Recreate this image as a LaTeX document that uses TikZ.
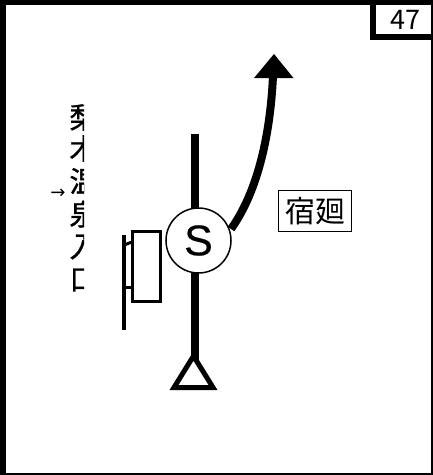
\documentclass[tikz,border=0pt]{standalone}
\usepackage{fontspec}
\setmainfont{Liberation Sans}
\newfontfamily\sbold[FakeBold=0.4]{Liberation Sans}
\newfontfamily\cjk{Noto Sans CJK JP}
\newfontfamily\cjkb[FakeBold=1]{Noto Sans CJK JP}
\newfontfamily\arrowfont{DejaVu Sans}
\tikzset{
  x=1pt,y=-1pt,
  vchar/.style={inner sep=0pt,font=\cjkb\fontsize{29}{29}\selectfont},
}
\begin{document}
\begin{tikzpicture}
\useasboundingbox (0,0) rectangle (433,475);
% outer frame
\fill[black] (0,0) rectangle (433,475);
\fill[white] (6,5) rectangle (431,472.7);
% number tab
\fill[black] (370,5) rectangle (431,40);
\fill[white] (376,5) rectangle (431,34);
\node[inner sep=0pt,font=\cjk\fontsize{27}{27}\selectfont] (num) at (405,19.5) {47};
% main track
\draw[line width=8pt] (195,134) -- (195,360);
\coordinate (apex) at (193.5,356);
\draw[line width=5pt,miter limit=10,fill=white] (apex) -- (174,387.5) -- (213,387.5) -- cycle;
% curve and arrow
\coordinate (curvestart) at (231,229);
\coordinate (curveend) at (273,76);
\draw[line width=8pt] (curvestart) .. controls (256,194) and (270,140) .. (curveend);
\fill[black] (274,54) -- (293.5,78) -- (254,78) -- cycle;
% signal
\draw[line width=4pt] (124,235) -- (124,330);
\draw[line width=3pt] (124,245) -- (132,242);
\draw[line width=3pt] (124,287) -- (132,287);
\node[draw,line width=3pt,fill=white,minimum width=28pt,minimum height=70pt,inner sep=0pt] (sig) at (146.5,266.5) {};
\node[circle,draw,line width=1.5pt,fill=white,minimum size=65pt,inner sep=0pt,font=\sbold\fontsize{43}{43}\selectfont] (s) at (198.5,240.5) {S};
% label box
\node[draw,line width=1.5pt,minimum width=73pt,minimum height=41pt,inner sep=0pt,font=\cjk\fontsize{30}{30}\selectfont] (lbl) at (315,211) {宿廻};
% clipped vertical text
\begin{scope}
\clip (40,90) rectangle (84,300);
\node[vchar] (c1) at (84,117.5) {梨};
\node[vchar] (c2) at (84,148.5) {木};
\node[vchar] (c3) at (84,181) {温};
\node[vchar] (c4) at (84,214) {泉};
\node[vchar] (c5) at (84,247) {入};
\node[vchar] (c6) at (84,280) {口};
\end{scope}
\node[inner sep=0pt,font=\arrowfont\fontsize{18}{18}\selectfont] (arr) at (58,194) {→};
\end{tikzpicture}
\end{document}
